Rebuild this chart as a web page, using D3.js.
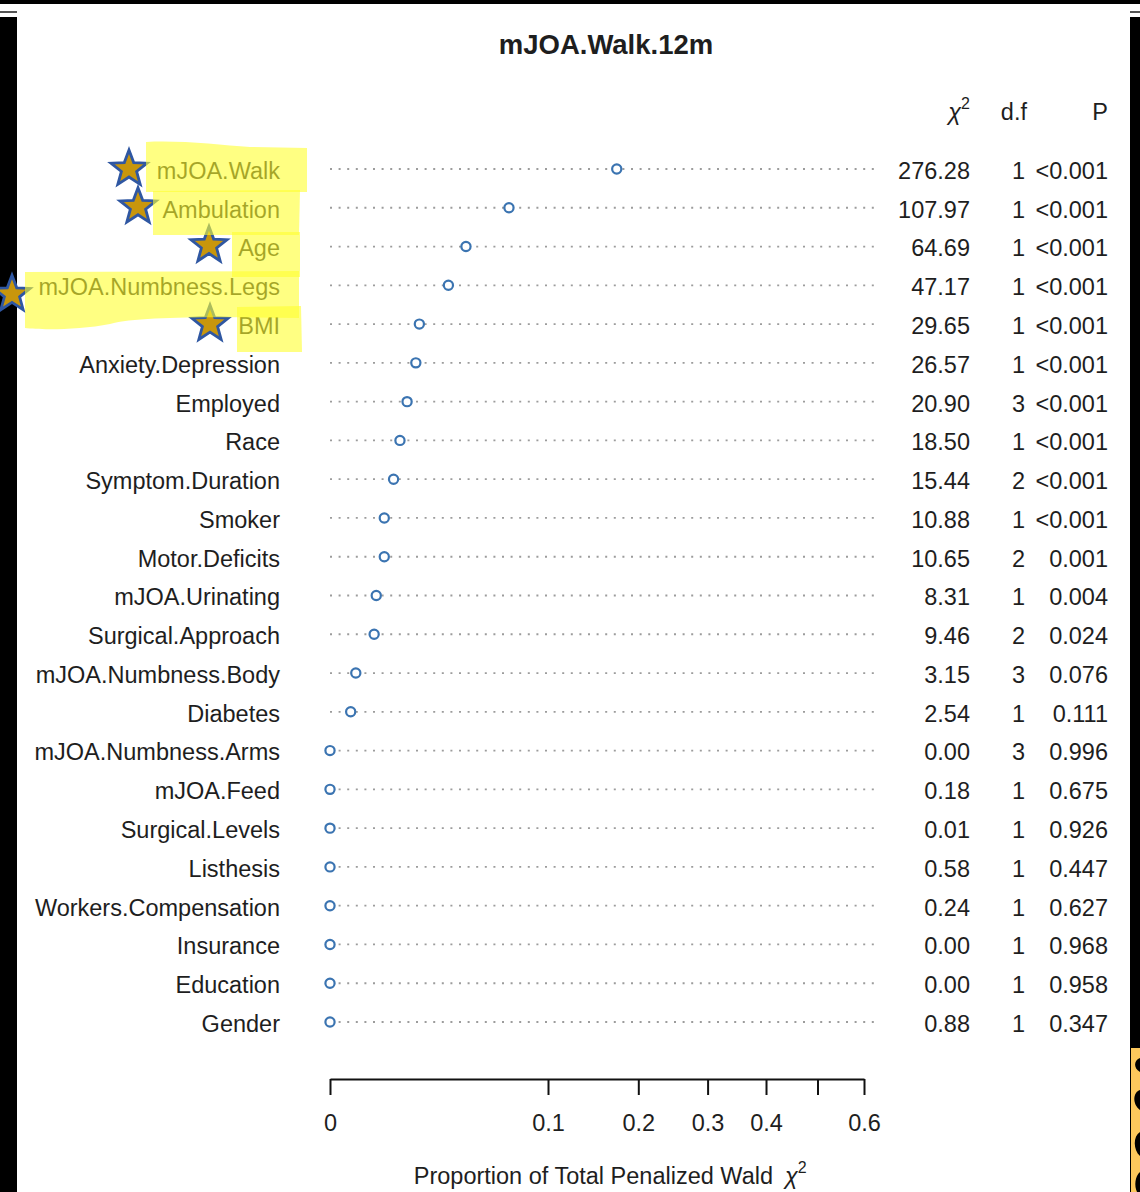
<!DOCTYPE html>
<html>
<head>
<meta charset="utf-8">
<script src="https://cdn.jsdelivr.net/npm/d3@7"></script>
<style>
  html, body { margin: 0; padding: 0; background: #fff; }
  svg { display: block; }
  text { font-family: "Liberation Sans", Arial, sans-serif; fill: #1e1e1e; }
</style>
</head>
<body>
<svg id="chart" width="1140" height="1192"></svg>
<script>
// Predictors, ordered by their share of the total penalized Wald chi-square
const predictors = [
  "mJOA.Walk", "Ambulation", "Age", "mJOA.Numbness.Legs", "BMI",
  "Anxiety.Depression", "Employed", "Race", "Symptom.Duration", "Smoker",
  "Motor.Deficits", "mJOA.Urinating", "Surgical.Approach", "mJOA.Numbness.Body",
  "Diabetes", "mJOA.Numbness.Arms", "mJOA.Feed", "Surgical.Levels", "Listhesis",
  "Workers.Compensation", "Insurance", "Education", "Gender"
];
// Proportion of total penalized Wald chi-square (plotted dots)
const proportion = [
  0.1730, 0.0674, 0.0389, 0.0295, 0.0168,
  0.0155, 0.0125, 0.0103, 0.0085, 0.0062,
  0.0062, 0.0045, 0.0041, 0.0014, 0.0009,
  0, 0, 0, 0, 0, 0, 0, 0
];
const chisq = [
  "276.28", "107.97", "64.69", "47.17", "29.65",
  "26.57", "20.90", "18.50", "15.44", "10.88",
  "10.65", "8.31", "9.46", "3.15", "2.54",
  "0.00", "0.18", "0.01", "0.58", "0.24", "0.00", "0.00", "0.88"
];
const dfree = [1, 1, 1, 1, 1, 1, 3, 1, 2, 1, 2, 1, 2, 3, 1, 3, 1, 1, 1, 1, 1, 1, 1];
const pvalue = [
  "<0.001", "<0.001", "<0.001", "<0.001", "<0.001",
  "<0.001", "<0.001", "<0.001", "<0.001", "<0.001",
  "0.001", "0.004", "0.024", "0.076", "0.111",
  "0.996", "0.675", "0.926", "0.447", "0.627", "0.968", "0.958", "0.347"
];
const tickValues = [0, 0.1, 0.2, 0.3, 0.4, 0.5, 0.6];
const tickLabels = ["0", "0.1", "0.2", "0.3", "0.4", "", "0.6"];
// Predictors marked with a star
const starred = ["mJOA.Walk", "Ambulation", "Age", "mJOA.Numbness.Legs", "BMI"];

const svg = d3.select("#chart");
const FS = 23.5;
const DY = "0.42em";

// Screen frame around the plot
const frame = svg.append("g");
frame.append("rect").attr("x", 0).attr("y", 0).attr("width", 1140).attr("height", 4).attr("fill", "#000");
frame.append("rect").attr("x", 0).attr("y", 11).attr("width", 17).attr("height", 2).attr("fill", "#555");
frame.append("rect").attr("x", 0).attr("y", 17).attr("width", 17).attr("height", 1175).attr("fill", "#000");
frame.append("rect").attr("x", 1130).attr("y", 11).attr("width", 10).attr("height", 2).attr("fill", "#555");
frame.append("rect").attr("x", 1130).attr("y", 17).attr("width", 10).attr("height", 1175).attr("fill", "#000");
frame.append("rect").attr("x", 1131).attr("y", 1048).attr("width", 9).attr("height", 144).attr("fill", "#fcc85c");
frame.append("path").attr("fill", "#000")
  .attr("d", "M1140,1058 C1134,1060 1133,1068 1140,1072 Z M1140,1090 C1133,1092 1132,1104 1140,1110 Z M1140,1132 C1133,1136 1133,1150 1140,1156 Z M1140,1172 C1135,1176 1134,1186 1137,1192 L1140,1192 Z");

// Scales
const x = d3.scaleSqrt().domain([0, 0.6]).range([330, 864]);
const y = d3.scalePoint().domain(predictors).range([169, 1022]);

// Title
svg.append("text")
  .attr("x", 606).attr("y", 54)
  .attr("text-anchor", "middle")
  .style("font-weight", "bold").style("font-size", "27.5px")
  .text("mJOA.Walk.12m");

// Column headers
const hdr = svg.append("g").style("font-size", FS + "px");
const chiHead = hdr.append("text").attr("x", 970).attr("y", 120).attr("text-anchor", "end");
chiHead.append("tspan").text("χ").style("font-style", "italic");
chiHead.append("tspan").attr("dy", -11).style("font-size", "16px").text("2");
hdr.append("text").attr("x", 1027).attr("y", 120).attr("text-anchor", "end").text("d.f");
hdr.append("text").attr("x", 1108).attr("y", 120).attr("text-anchor", "end").text("P");

// Row labels
const rows = svg.append("g").style("font-size", FS + "px");
rows.selectAll("text.lab").data(predictors).join("text")
  .attr("class", "lab")
  .attr("x", 280).attr("y", d => y(d)).attr("dy", DY)
  .attr("text-anchor", "end")
  .text(d => d);

// Dotted guide lines
svg.append("g").selectAll("line").data(predictors).join("line")
  .attr("x1", 330).attr("x2", 880)
  .attr("y1", d => y(d)).attr("y2", d => y(d))
  .attr("stroke", "#9c9c9c").attr("stroke-width", 1.8)
  .attr("stroke-dasharray", "2,6.6");

// Dots
svg.append("g").selectAll("circle").data(predictors).join("circle")
  .attr("cx", (d, i) => x(proportion[i]))
  .attr("cy", d => y(d))
  .attr("r", 4.6)
  .attr("fill", "#fff")
  .attr("stroke", "#3b74b1").attr("stroke-width", 2.2);

// Statistics columns
const stats = svg.append("g").style("font-size", FS + "px");
stats.selectAll("text.chi").data(predictors).join("text")
  .attr("class", "chi").attr("x", 970).attr("y", d => y(d)).attr("dy", DY)
  .attr("text-anchor", "end").text((d, i) => chisq[i]);
stats.selectAll("text.df").data(predictors).join("text")
  .attr("class", "df").attr("x", 1025).attr("y", d => y(d)).attr("dy", DY)
  .attr("text-anchor", "end").text((d, i) => dfree[i]);
stats.selectAll("text.p").data(predictors).join("text")
  .attr("class", "p").attr("x", 1108).attr("y", d => y(d)).attr("dy", DY)
  .attr("text-anchor", "end").text((d, i) => pvalue[i]);

// Bottom axis
const axis = d3.axisBottom(x)
  .tickValues(tickValues)
  .tickFormat((d, i) => tickLabels[i])
  .tickSize(16).tickSizeOuter(0).tickPadding(19);
const ax = svg.append("g").attr("transform", "translate(0,1079)").call(axis);
ax.select(".domain").attr("stroke", "#111").attr("stroke-width", 2);
ax.selectAll(".tick line").attr("stroke", "#111").attr("stroke-width", 2);
ax.selectAll(".tick text").style("font-size", FS + "px")
  .style("font-family", "'Liberation Sans', Arial, sans-serif").attr("fill", "#1e1e1e");

// Axis title with the chi-square symbol set apart
svg.append("text")
  .attr("x", 773).attr("y", 1184)
  .attr("text-anchor", "end").style("font-size", FS + "px")
  .text("Proportion of Total Penalized Wald");
const chiT = svg.append("text")
  .attr("x", 785).attr("y", 1184).style("font-size", FS + "px");
chiT.append("tspan").text("χ").style("font-style", "italic");
chiT.append("tspan").attr("dy", -11).style("font-size", "16px").text("2");

// Stars beside the marked predictors
function starPath(cx, cy, R, r) {
  const pts = [];
  for (let k = 0; k < 10; k++) {
    const a = -Math.PI / 2 + k * Math.PI / 5;
    const rad = k % 2 === 0 ? R : r;
    pts.push([cx + rad * Math.cos(a), cy + rad * Math.sin(a)]);
  }
  return "M" + pts.map(p => p.join(",")).join("L") + "Z";
}
const starX = [129, 138, 209, 12, 210];
const starDy = [0, -1, -1, 9, 0];
svg.append("g").selectAll("path").data(starred).join("path")
  .attr("d", (d, i) => starPath(starX[i], y(d) + starDy[i], 19, 8))
  .attr("fill", "#c8960c")
  .attr("stroke", "#2f57a2").attr("stroke-width", 2.8)
  .attr("stroke-linejoin", "miter");

// Highlighter strokes over the marked labels
const hl = svg.append("g").attr("fill", "#ffff2e").attr("fill-opacity", 0.6);
hl.append("path").attr("d", "M146,142 C180,140 220,145 250,147 L307,148 L307,192 L146,192 Z");
hl.append("path").attr("d", "M153,191 L300,190 L299,235 L153,235 Z");
hl.append("path").attr("d", "M232,232 L300,232 L300,277 L232,277 Z");
hl.append("path").attr("d", "M25,272 L299,271 L299,318 C220,317 140,316 110,324 C80,330 40,330 25,328 Z");
hl.append("path").attr("d", "M237,307 L301,306 L302,352 L237,352 Z");
</script>
</body>
</html>
